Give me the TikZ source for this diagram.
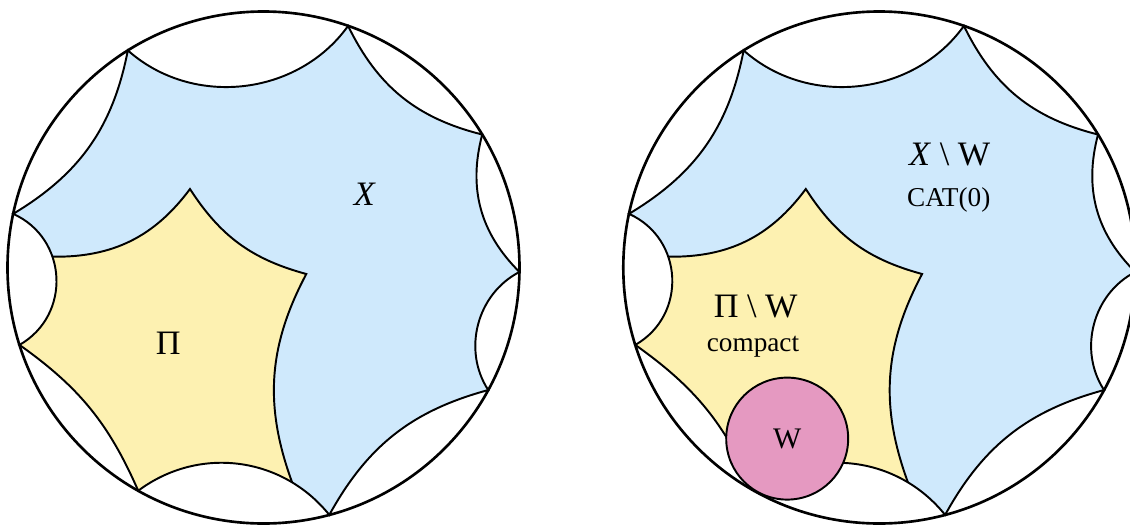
\documentclass[tikz,border=0pt]{standalone}
\usepackage{fontspec}
\setmainfont{Liberation Serif}

\definecolor{xblue}{RGB}{207,233,252}
\definecolor{piyellow}{RGB}{253,241,177}
\definecolor{wpink}{RGB}{229,153,193}

% the ideal nine-gon and the inner boundary of Pi (disk radius 256)
\newcommand{\ninegon}{(122:256) to[bend right=48] (70.7:256) to[bend right=25] (31.3:256)
    to[bend right=30] (-1:256) to[bend right=48] (-28.6:256) to[bend right=23] (-75.1:256)
    to[bend right=44] (-119.3:256) to[bend right=15.5] (-162.4:256)
    to[bend right=63, looseness=1.17] (167.9:256) to[bend right=24] (122:256) -- cycle}
\newcommand{\piedge}{(-228.2,10.8) -- (-210.2,10.8) to[bend right=27] (-73.5,78.5)
    to[bend right=21] (42.8,-6.5) to[bend right=24] (28.5,-214.5) -- (34.1,-231.6)}

\begin{document}
\begin{tikzpicture}[
    x=0.02cm, y=0.02cm,
    rim/.style={line width=1.5pt},
    edge/.style={line width=1.1pt},
    biglabel/.style={font=\fontsize{19.5}{23}\selectfont},
    smalllabel/.style={font=\fontsize{15.5}{18}\selectfont}
]
    \useasboundingbox (-263.5,-257.5) rectangle (866.5,267.5);

    \foreach \cx in {0,615.8} {
        \begin{scope}[shift={(\cx,0)}]
            \fill[xblue] \ninegon;
            \begin{scope}
                \clip \ninegon;
                \fill[piyellow] \piedge -- (34.1,-300) -- (-300,-300) -- (-300,10.8) -- cycle;
                \draw[edge] \piedge;
            \end{scope}
            \draw[edge] \ninegon;
            \draw[rim] (0,0) circle (256);
        \end{scope}
    }

    \node [biglabel] (xleft) at (101.5,73.2) {\textit{X}};
    \node [biglabel] (pileft) at (-95.2,-75.7) {Π};

    \node [biglabel] (xright) at (686.2,113.2) {\textit{X} \textbackslash{} W};
    \node [smalllabel] (catzero) at (685.2,67.5) {CAT(0)};
    \node [biglabel] (piright) at (492.2,-38.5) {Π \textbackslash{} W};
    \node [smalllabel] (compact) at (489.5,-79) {compact};
    \node [circle, draw, edge, fill=wpink, inner sep=0pt, minimum size=2.44cm,
           font=\fontsize{17}{20}\selectfont] (horoW) at (523.7,-171.1) {W};
\end{tikzpicture}
\end{document}
